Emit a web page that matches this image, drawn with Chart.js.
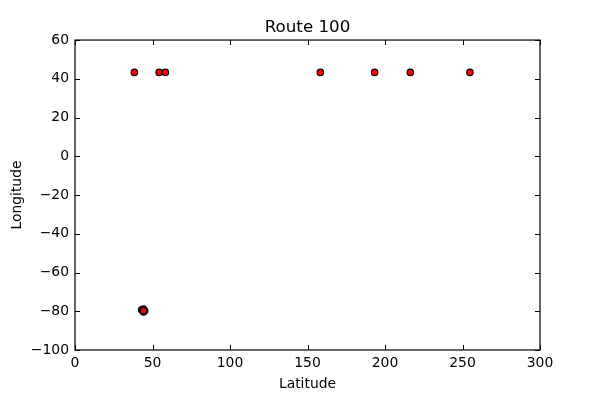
<!DOCTYPE html>
<html>
<head>
<meta charset="utf-8">
<script src="https://cdn.jsdelivr.net/npm/chart.js@4"></script>
<style>
body { margin: 0; background: #fff; }
canvas { display: block; }
</style>
</head>
<body>
<canvas id="myChart" width="600" height="400"></canvas>
<script>
"use strict";

const latitudes = [38.3, 54.3, 58.3, 158.3, 193.3, 216.3, 254.8, 43, 45, 44.2, 44.2, 43.8, 44.2];
const longitudes = [43.3, 43.3, 43.3, 43.3, 43.3, 43.3, 43.3, -79.2, -79.8, -78.9, -80.4, -79.7, -79.7];
const xTicks = [0, 50, 100, 150, 200, 250, 300];
const yTicks = [60, 40, 20, 0, -20, -40, -60, -80, -100];

const font = { family: "'DejaVu Sans'", size: 13.9 };

// matplotlib style ticks: inward, on all four sides
const innerTicks = {
    id: 'innerTicks',
    afterDatasetsDraw(chart) {
        const { ctx, chartArea: a, scales } = chart;
        ctx.save();
        ctx.strokeStyle = '#000';
        ctx.lineWidth = 1;
        ctx.beginPath();
        xTicks.forEach(v => {
            const x = Math.round(scales.x.getPixelForValue(v)) + 0.5;
            ctx.moveTo(x, a.bottom); ctx.lineTo(x, a.bottom - 5);
            ctx.moveTo(x, a.top); ctx.lineTo(x, a.top + 5);
        });
        yTicks.forEach(v => {
            const y = Math.round(scales.y.getPixelForValue(v)) + 0.5;
            ctx.moveTo(a.left, y); ctx.lineTo(a.left + 5, y);
            ctx.moveTo(a.right, y); ctx.lineTo(a.right - 5, y);
        });
        ctx.stroke();
        ctx.lineWidth = 1.2;
        ctx.strokeRect(a.left, a.top, a.right - a.left, a.bottom - a.top);
        ctx.restore();
    }
};

new Chart(document.getElementById('myChart'), {
    type: 'scatter',
    data: {
        datasets: [{
            label: 'Route 100',
            data: latitudes.map((lat, i) => ({ x: lat, y: longitudes[i] })),
            backgroundColor: '#ff0000',
            borderColor: '#000000',
            borderWidth: 1.2,
            pointRadius: 3.2,
            pointHoverRadius: 3.2
        }]
    },
    options: {
        responsive: false,
        animation: false,
        layout: { padding: { top: 0, right: 60, bottom: 0, left: 0 } },
        plugins: {
            legend: { display: false },
            tooltip: { enabled: false },
            title: {
                display: true,
                fullSize: false,
                text: 'Route 100',
                color: '#000',
                font: { family: font.family, size: 16.7, weight: 'normal' },
                padding: { top: 18, bottom: 2 }
            }
        },
        scales: {
            x: {
                type: 'linear',
                min: 0,
                max: 300,
                afterFit(s) { s.height = 50; },
                afterBuildTicks(s) { s.ticks = xTicks.map(v => ({ value: v })); },
                grid: { drawOnChartArea: false, drawTicks: false },
                border: { display: false },
                ticks: { color: '#000', font, maxRotation: 0, padding: 5 },
                title: { display: true, text: 'Latitude', color: '#000', font, padding: { top: 2, bottom: 7 } }
            },
            y: {
                type: 'linear',
                min: -100,
                max: 60,
                afterFit(s) { s.width = 75; },
                afterBuildTicks(s) { s.ticks = yTicks.map(v => ({ value: v })); },
                grid: { drawOnChartArea: false, drawTicks: false },
                border: { display: false },
                ticks: {
                    color: '#000',
                    font,
                    padding: 6,
                    callback: v => String(v).replace('-', '\u2212')
                },
                title: { display: true, text: 'Longitude', color: '#000', font, padding: { top: 9, bottom: 0 } }
            }
        }
    },
    plugins: [innerTicks]
});
</script>
</body>
</html>
